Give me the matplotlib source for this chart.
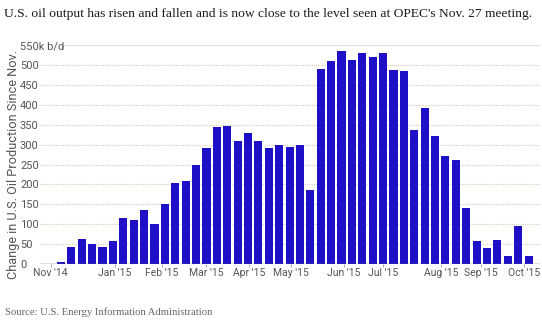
import matplotlib.pyplot as plt

# weekly change in U.S. crude output, thousand barrels per day
values = [1, 6, 42, 62, 51, 44, 58, 116, 110, 136, 101, 151, 203, 208, 248,
          291, 343, 347, 310, 328, 310, 291, 298, 295, 299, 186, 490, 511,
          536, 513, 529, 520, 529, 487, 484, 337, 392, 321, 272, 261, 141,
          58, 41, 60, 20, 96, 20]
month_labels = ["Nov '14", "Jan '15", "Feb '15", "Mar '15", "Apr '15", "May '15",
                "Jun '15", "Jul '15", "Aug '15", "Sep '15", "Oct '15"]
month_pos = [0.0, 6.2, 10.7, 15.0, 19.1, 23.1, 28.2, 32.0, 37.6, 41.4, 45.6]
y_ticks = [0, 50, 100, 150, 200, 250, 300, 350, 400, 450, 500, 550]
y_labels = [str(v) for v in y_ticks[:-1]] + ["550k b/d"]

bar_color = "#1d10c6"
grid_color = "#d6cfbf"
text_gray = "#555555"

fig = plt.figure(figsize=(5.42, 3.22), dpi=100)
ax = fig.add_axes([0.0738, 0.180, 0.9225, 0.680])

x = list(range(len(values)))
ax.bar(x, values, width=0.78, color=bar_color, zorder=3)

ax.set_xlim(-1.02, 47.1)
ax.set_ylim(0, 550)

for v in y_ticks[1:-1]:
    ax.axhline(v, color=grid_color, lw=0.8, ls=(0, (1, 1)), zorder=1)
ax.axhline(550, xmin=0.05, color="#e2ddd2", lw=0.8, zorder=1)
ax.axhline(0, color="#666666", lw=1.0, zorder=4)

ax.set_yticks(y_ticks)
ax.set_yticklabels(y_labels)
ax.set_xticks(month_pos)
ax.set_xticklabels(month_labels)

for side in ["top", "right", "left", "bottom"]:
    ax.spines[side].set_visible(False)

ax.tick_params(axis="y", length=0, pad=14.4, labelsize=8, labelcolor=text_gray)
ax.tick_params(axis="x", length=2, width=0.6, color="#999999", pad=1,
               labelsize=7.5, labelcolor=text_gray)
for lab in ax.get_yticklabels():
    lab.set_horizontalalignment("left")
    lab.set_family("Roboto")
for lab in ax.get_xticklabels():
    lab.set_family("Roboto")

fig.text(0.008, 0.955,
         "U.S. oil output has risen and fallen and is now close to the level seen at OPEC's Nov. 27 meeting.",
         family="Liberation Serif", fontsize=9.7, color="#1a1a1a", va="center")
fig.text(0.024, 0.135, "Change in U.S. Oil Production Since Nov.",
         family="Roboto", fontsize=9.2, color="#555555", rotation=90,
         ha="center", va="bottom")
fig.text(0.010, 0.030, "Source: U.S. Energy Information Administration",
         family="Liberation Serif", fontsize=7.7, color="#666666", va="center")

fig.savefig("out.png", dpi=100)
